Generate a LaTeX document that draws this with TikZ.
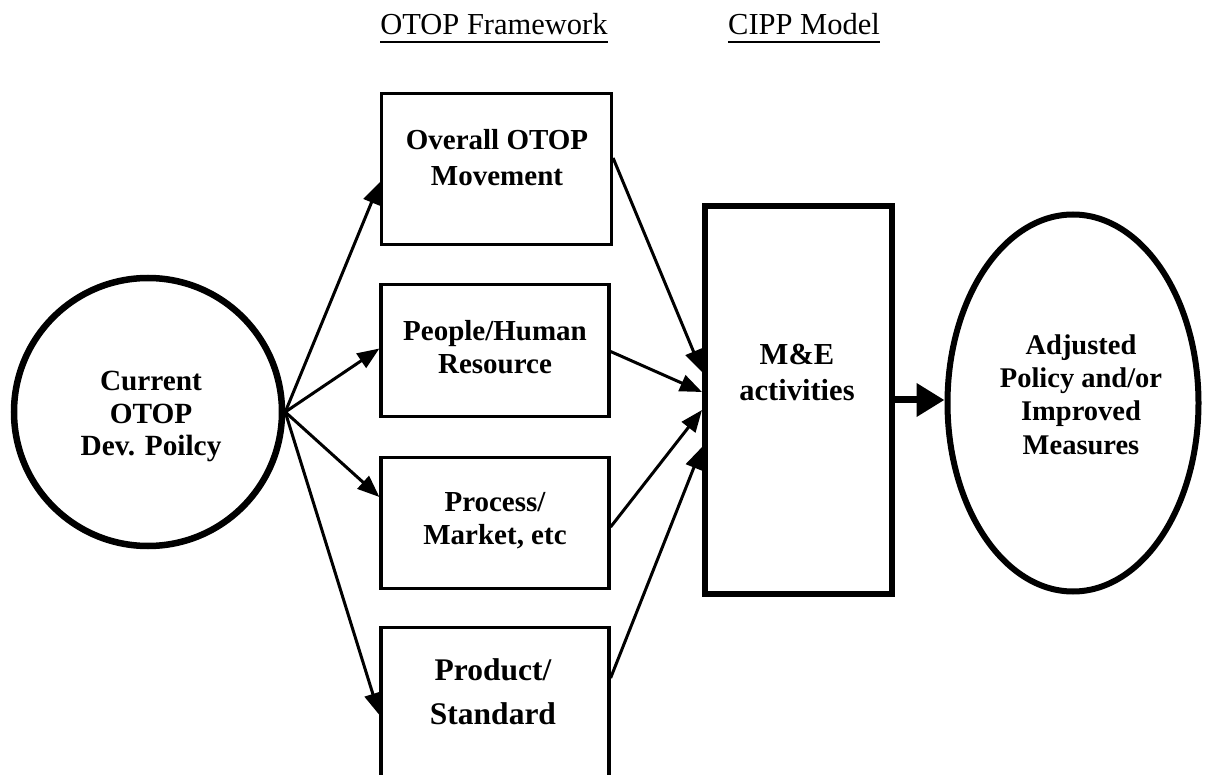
\documentclass[tikz,border=0pt]{standalone}
\usepackage{fontspec}
\setmainfont{Liberation Serif}
\usetikzlibrary{arrows.meta,shapes.geometric}
\begin{document}
\begin{tikzpicture}[x=1pt,y=-1pt,
  box/.style={draw, rectangle, line width=3.2pt, inner sep=0pt},
  heavybox/.style={draw, rectangle, line width=6pt, inner sep=0pt},
  lbl/.style={align=center, inner sep=0pt, font=\fontsize{29}{34}\selectfont\bfseries},
  ttl/.style={anchor=base, inner sep=0pt, font=\fontsize{30.5}{36}\selectfont},
  link/.style={line width=3pt, -{Triangle[length=22pt,width=17pt]}},
  bigarrow/.style={line width=7pt, -{Triangle[length=28pt,width=32pt]}}
]
\useasboundingbox (0,0) rectangle (1213,775);
\fill[white] (0,0) rectangle (1213,775);
\clip (0,0) rectangle (1213,775);

% column headings
\node[ttl] (hotop) at (494,35) {OTOP Framework};
\node[ttl] (hcipp) at (804,35) {CIPP Model};
\draw[line width=2pt] ([yshift=-7pt]hotop.base west) -- ([yshift=-7pt]hotop.base east);
\draw[line width=2pt] ([yshift=-7pt]hcipp.base west) -- ([yshift=-7pt]hcipp.base east);

% policy circle
\node[circle, draw, line width=6.5pt, minimum size=268pt, inner sep=0pt] (c) at (148,412) {};
\node[lbl, font=\fontsize{29.3}{32.5}\selectfont\bfseries] (ct) at (151,416.5) {Current\\OTOP\\Dev. Poilcy};

% OTOP framework boxes
\node[box, minimum width=230pt, minimum height=151pt] (b1) at (496.5,169) {};
\node[box, minimum width=228pt, minimum height=132pt] (b2) at (495,350.5) {};
\node[box, minimum width=228pt, minimum height=131pt] (b3) at (495,523) {};
\node[box, minimum width=228pt, minimum height=161pt] (b4) at (495,708) {};

\node[lbl, font=\fontsize{29}{35.5}\selectfont\bfseries] (t1) at (497,157.5) {Overall OTOP\\Movement};
\node[lbl, font=\fontsize{29}{33}\selectfont\bfseries] (t2) at (495,347) {People/Human\\Resource};
\node[lbl, font=\fontsize{29}{33}\selectfont\bfseries] (t3) at (495,521) {Process/\\Market, etc};
\node[lbl, font=\fontsize{31.5}{44}\selectfont\bfseries] (t4) at (493,692) {Product/\\Standard};

% M&E box
\node[heavybox, minimum width=187pt, minimum height=388pt] (m) at (798.5,400) {};
\node[lbl, font=\fontsize{30.5}{36}\selectfont\bfseries] (mt) at (797,372.5) {M\&E\\activities};

% outcome ellipse
\node[ellipse, draw, line width=6pt, minimum width=251pt, minimum height=377pt, inner sep=0pt] (e) at (1073,403) {};
\node[lbl, font=\fontsize{28.5}{33.3}\selectfont\bfseries] (et) at (1081,394.5) {Adjusted\\Policy and/or\\Improved\\Measures};

% policy to framework components
\draw[link] (c.east) -- ([yshift=-13pt]b1.west);
\draw[link] (c.east) -- ([yshift=2pt]b2.west);
\draw[link] (c.east) -- ([yshift=26pt]b3.west);
\draw[link] (c.east) -- ([yshift=-7pt]b4.west);

% framework components to M&E
\draw[link] ([yshift=11pt]b1.east) -- ([yshift=28pt]m.west);
\draw[link] ([yshift=-1pt]b2.east) -- ([yshift=8pt]m.west);
\draw[link] ([yshift=-4pt]b3.east) -- ([yshift=-10pt]m.west);
\draw[link] ([yshift=30pt]b4.east) -- ([yshift=-47pt]m.west);

% M&E to outcome
\draw[bigarrow] (m.east) -- (m.east -| e.west);
\end{tikzpicture}
\end{document}
